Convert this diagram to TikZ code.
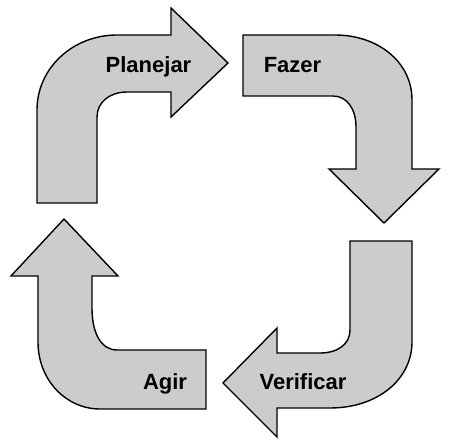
\documentclass[tikz,border=0pt]{standalone}
\usepackage{fontspec}
\setmainfont{Liberation Sans}

\begin{document}
\begin{tikzpicture}[x=1pt, y=-1pt,
    seta/.style={draw=black, fill=black!20, line width=1.4pt, line join=miter},
    rotulo/.style={font=\bfseries\fontsize{22}{22}\selectfont, inner sep=0pt, anchor=base}]
  \useasboundingbox (0,0) rectangle (451,444);
  \draw[seta] % Planejar
      (37,203) -- (37,110) .. controls (37,68) and (73,35) .. (117,35) -- (171,35)
      -- (171,8) -- (228,63) -- (171,117) -- (171,92) -- (127,92)
      .. controls (110,92) and (97,102) .. (97,117) -- (97,203) -- cycle;
  \draw[seta] % Fazer
      (243,35) -- (335,35) .. controls (378,35) and (412,62) .. (412,100) -- (412,169)
      -- (439,169) -- (384,223) -- (329,169) -- (356,169) -- (356,127)
      .. controls (356,109) and (347,96) .. (333,96) -- (243,96) -- cycle;
  \draw[seta] % Verificar
      (412,241) -- (412,342) .. controls (412,379) and (378,408) .. (330,408) -- (277,408)
      -- (277,437) -- (223,383) -- (277,328) -- (277,353) -- (320,353)
      .. controls (338,353) and (350,344) .. (350,330) -- (350,241) -- cycle;
  \draw[seta] % Agir
      (206,350) -- (117,350) .. controls (101,350) and (92,333) .. (92,308) -- (92,276)
      -- (118,276) -- (64,219) -- (11,276) -- (38,276) -- (38,342)
      .. controls (38,380) and (66,409) .. (100,409) -- (206,409) -- cycle;
  \node (planejar)  [rotulo] at (148.5,73) {Planejar};
  \node (fazer)     [rotulo] at (292.5,73) {Fazer};
  \node (verificar) [rotulo] at (303,390)  {Verificar};
  \node (agir)      [rotulo] at (165,390)  {Agir};
\end{tikzpicture}
\end{document}
